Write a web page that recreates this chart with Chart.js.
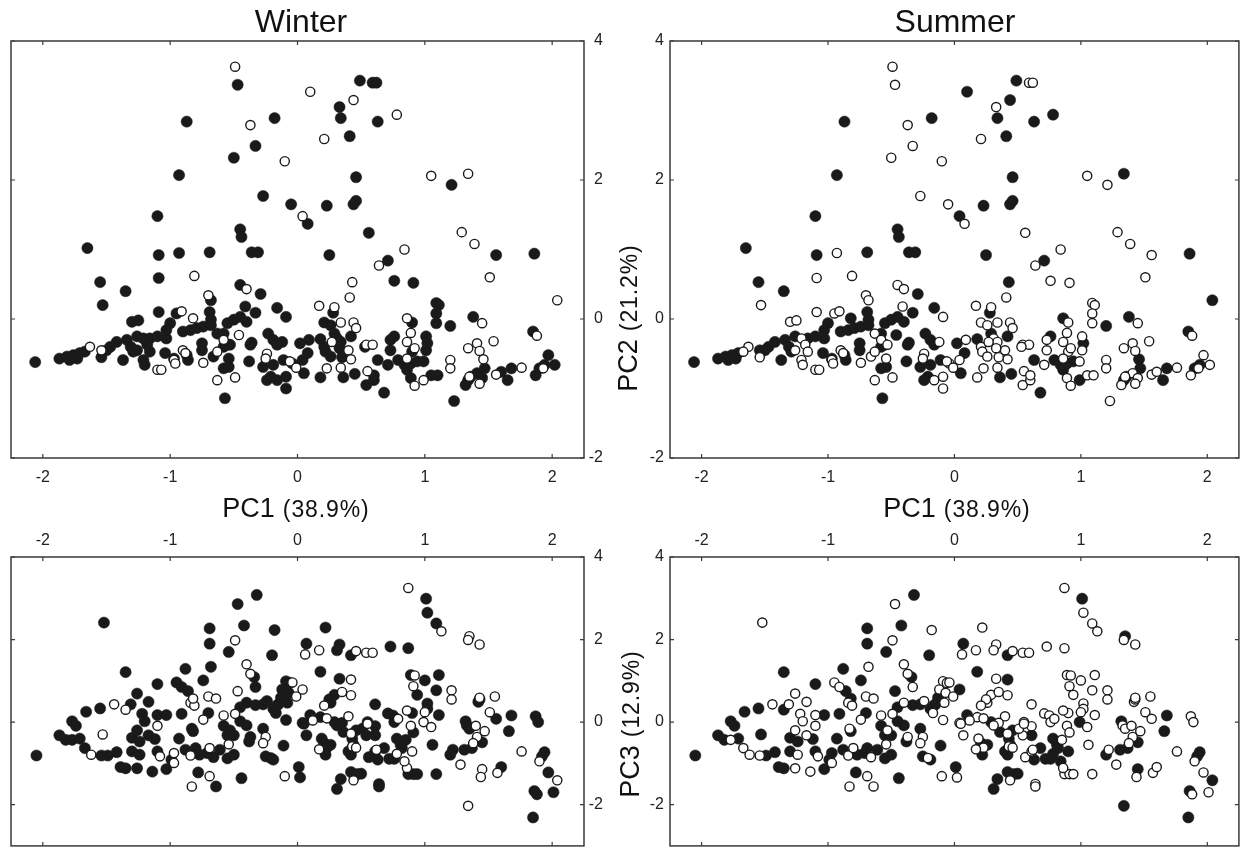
<!DOCTYPE html>
<html><head><meta charset="utf-8">
<script src="https://cdn.jsdelivr.net/npm/chart.js@4.4.1/dist/chart.umd.min.js"></script>
<style>
html,body{margin:0;padding:0;background:#fff;overflow:hidden;width:1245px;height:852px;}
body{position:relative;font-family:"Liberation Sans",Arial,Helvetica,sans-serif;color:#111;}
canvas{position:absolute;}
.t{position:absolute;white-space:nowrap;line-height:1;}
.ttl{font-size:32px;top:5px;transform:translateX(-50%);}
.ax{font-size:27px;}
.ax .s{font-size:23px;letter-spacing:0.9px;margin-left:8px;}
</style></head>
<body>
<canvas id="tl" width="628" height="500" style="left:0;top:0"></canvas>
<canvas id="tr" width="605" height="500" style="left:640px;top:0"></canvas>
<canvas id="bl" width="628" height="352" style="left:0;top:500px"></canvas>
<canvas id="br" width="605" height="352" style="left:640px;top:500px"></canvas>

<div class="t ttl" style="left:301px">Winter</div>
<div class="t ttl" style="left:955px">Summer</div>
<div class="t ax" style="left:296px;top:495px;transform:translateX(-50%)">PC1<span class="s">(38.9%)</span></div>
<div class="t ax" style="left:957px;top:495px;transform:translateX(-50%)">PC1<span class="s">(38.9%)</span></div>
<div class="t ax" style="left:628px;top:318px;transform:translate(-50%,-50%) rotate(-90deg)">PC2<span class="s">(21.2%)</span></div>
<div class="t ax" style="left:630px;top:724px;transform:translate(-50%,-50%) rotate(-90deg)">PC3<span class="s">(12.9%)</span></div>

<script>
// ---- tick values ----
const xTicks = [-2, -1, 0, 1, 2];
const yTicks = [-2, 0, 2, 4];

// ---- PC1 vs PC2 scores (top panels) ----
const topPC1 = [
-0.49,-0.47,0.49,0.59,0.62,0.10,0.44,0.33,0.34,0.63,
0.78,-0.87,-0.37,-0.18,0.21,0.41,-0.33,-0.50,-0.10,-0.93,
0.46,-0.27,-0.05,0.23,0.44,0.46,0.04,0.08,-1.10,0.56,
-0.45,-0.44,-1.65,-1.09,-0.93,-0.69,-0.36,-0.31,0.25,0.84,
0.71,0.64,-1.55,-1.35,-1.09,-0.81,-0.45,-0.40,-0.29,-0.70,
-0.68,0.43,0.41,0.76,0.91,1.05,1.21,1.34,1.29,1.39,
1.56,1.86,1.51,2.04,-1.53,-1.09,-0.69,-0.68,-0.41,-0.33,
-0.40,-0.16,-0.09,-1.30,-1.25,-0.95,-0.91,-1.00,-1.03,-0.82,
-0.90,-0.84,-0.79,-0.74,-0.68,-0.63,-0.58,-0.55,-0.50,-0.45,
-0.46,-0.58,-0.55,-0.58,-0.53,-0.75,-0.75,-1.03,-1.34,-1.26,
-1.21,-1.16,-1.10,-1.42,-1.47,-1.50,-1.31,-1.26,-1.18,-1.16,
-1.29,-1.21,-1.20,-1.37,-1.54,-1.63,-1.54,-1.87,-1.81,-1.76,
-1.71,-1.67,-1.79,-1.73,-2.06,-1.04,-0.97,-0.97,-0.96,-0.90,
-0.88,-0.87,-0.86,-1.10,-1.07,-0.74,-0.66,-0.63,-0.54,-0.58,
-0.54,-0.63,-0.49,-0.57,-0.38,-0.36,-0.37,-0.23,-0.19,-0.12,
-0.16,-0.24,-0.25,-0.27,-0.19,-0.21,-0.24,-0.16,-0.09,-0.09,
-0.11,-0.04,0.04,0.05,-0.06,-0.01,0.02,0.09,0.08,0.17,
0.29,0.28,0.34,0.44,0.46,0.21,0.26,0.29,0.31,0.34,
0.42,0.18,0.21,0.22,0.26,0.27,0.40,0.42,0.34,0.33,
0.35,0.23,0.18,0.36,0.45,0.55,0.54,0.60,0.60,0.68,
0.54,0.59,0.53,0.63,0.71,0.73,0.73,0.76,0.79,0.84,
0.86,0.89,0.94,0.99,1.01,1.02,1.01,0.90,0.89,0.86,
0.89,0.86,0.92,0.86,0.92,0.99,0.90,1.09,1.11,1.09,
1.09,1.20,1.05,1.10,1.20,1.20,1.23,1.38,1.45,1.34,
1.41,1.43,1.46,1.54,1.34,1.32,1.36,1.41,1.47,1.45,
1.35,1.43,1.56,1.60,1.68,1.65,1.76,1.85,1.88,1.87,
1.90,1.94,1.97,2.02,1.93
];
const topPC2 = [
3.63,3.37,3.43,3.40,3.40,3.27,3.15,3.05,2.89,2.84,
2.94,2.84,2.79,2.89,2.59,2.63,2.49,2.32,2.27,2.07,
2.04,1.77,1.65,1.63,1.65,1.70,1.48,1.37,1.48,1.24,
1.29,1.18,1.02,0.92,0.95,0.96,0.96,0.96,0.92,1.00,
0.84,0.77,0.53,0.40,0.59,0.62,0.49,0.43,0.36,0.34,
0.27,0.53,0.31,0.55,0.52,2.06,1.93,2.09,1.25,1.08,
0.92,0.94,0.60,0.27,0.20,0.10,0.10,-0.01,0.18,0.09,
-0.04,0.16,0.03,-0.04,-0.02,0.08,0.11,-0.06,-0.16,0.01,
-0.18,-0.16,-0.13,-0.11,-0.09,-0.21,-0.21,-0.06,-0.01,0.03,
-0.23,-0.30,-0.37,-0.40,-0.37,-0.35,-0.45,-0.28,-0.30,-0.25,
-0.28,-0.28,-0.25,-0.33,-0.40,-0.45,-0.40,-0.45,-0.37,-0.47,
-0.47,-0.59,-0.66,-0.59,-0.55,-0.40,-0.45,-0.57,-0.54,-0.52,
-0.49,-0.47,-0.59,-0.57,-0.62,-0.49,-0.57,-0.59,-0.64,-0.45,
-0.49,-0.52,-0.59,-0.73,-0.73,-0.63,-0.54,-0.47,-0.57,-0.71,
-0.69,-0.88,-0.84,-1.14,-0.61,-0.34,-0.37,-0.21,-0.30,-0.33,
-0.37,-0.50,-0.57,-0.69,-0.66,-0.83,-0.88,-0.88,-0.83,-1.00,
-0.59,-0.64,-0.59,-0.78,-0.61,-0.70,-0.35,-0.30,-0.49,0.19,
0.17,0.09,-0.05,-0.05,-0.13,-0.05,-0.09,-0.21,-0.28,-0.33,
-0.25,-0.29,-0.40,-0.47,-0.54,-0.33,-0.45,-0.58,-0.70,-0.42,
-0.55,-0.71,-0.84,-0.84,-0.79,-0.75,-0.95,-0.88,-0.81,-1.06,
-0.37,-0.37,-0.40,-0.59,-0.66,-0.45,-0.30,-0.25,-0.59,-0.66,
-0.73,-0.64,-0.61,-0.61,-0.45,-0.35,-0.25,-0.47,-0.85,0.01,
-0.20,-0.33,-0.42,-0.57,-0.96,-0.88,-0.05,0.23,0.20,0.08,
-0.06,-0.10,-0.81,-0.81,-0.59,-0.71,-1.18,0.03,-0.06,-0.42,
-0.35,-0.46,-0.58,-0.32,-0.88,-0.95,-0.83,-0.78,-0.71,-0.85,
-0.83,-0.93,-0.80,-0.76,-0.71,-0.88,-0.70,-0.18,-0.24,-0.81,
-0.71,-0.66,-0.52,-0.66,-0.71
];
// 1 = filled marker, 0 = open marker
const topWinter = [
0,1,1,1,1,0,0,1,1,1, 0,1,0,1,0,1,1,1,0,1, 1,1,1,1,1,1,0,1,1,1, 1,1,1,1,1,1,1,1,1,0,
1,0,1,1,1,0,1,0,1,0, 1,0,0,1,1,0,1,0,0,0, 1,1,0,0,1,1,1,1,1,1, 1,1,1,1,1,1,0,1,1,0,
1,1,1,1,1,1,1,1,1,1, 0,0,1,1,1,1,1,1,1,1, 1,1,1,1,1,1,1,1,1,1, 1,1,1,1,1,0,0,1,1,1,
1,1,1,1,1,1,1,0,0,0, 0,1,1,0,0,0,1,0,1,1, 1,0,0,1,1,1,1,1,1,1, 1,0,0,1,1,1,1,1,1,1,
1,1,1,1,0,0,1,1,1,0, 0,1,0,0,0,1,1,1,1,1, 1,1,1,1,1,0,0,0,0,1, 1,0,1,1,1,0,1,1,1,1,
0,0,1,1,1,1,1,1,1,1, 1,1,1,1,1,1,1,1,1,0, 0,0,0,0,0,0,1,1,1,1, 1,1,1,1,0,0,1,1,0,0,
0,0,0,0,1,1,1,1,1,1, 0,0,0,1,1,1,0,1,0,1, 1,1,1,1,0
];
const topSummer = [
0,0,1,0,0,1,1,0,1,1, 1,1,0,1,0,1,0,0,0,1, 1,0,0,1,1,1,1,0,1,0, 1,1,1,1,0,1,1,1,1,0,
1,0,1,1,0,0,0,0,1,0, 0,1,0,0,0,0,0,1,0,0, 0,1,0,1,0,0,1,1,0,1, 1,1,0,0,0,0,0,1,1,1,
1,1,1,1,1,0,1,1,1,1, 1,0,1,1,0,1,1,1,1,1, 0,1,1,1,1,1,1,0,0,0, 1,0,0,1,0,0,1,1,1,1,
1,0,1,1,1,1,1,0,0,0, 0,1,1,0,0,0,0,0,0,1, 1,0,0,1,1,1,1,1,1,0, 1,0,0,1,1,1,1,0,0,0,
1,0,0,1,0,0,1,0,1,0, 0,1,0,0,0,0,0,1,0,0, 1,1,0,0,0,0,0,0,0,0, 0,0,0,1,1,0,0,0,0,1,
0,0,0,1,0,0,0,1,1,1, 1,1,1,0,0,1,0,0,0,1, 0,0,0,0,0,1,0,0,0,0, 0,1,0,0,0,0,0,1,0,0,
0,0,1,0,1,0,1,0,1,0, 0,0,0,0,1,1,0,1,0,0, 1,1,0,0,0
];

// ---- PC1 vs PC3 scores (bottom panels) ----
const botPC1 = [
-0.32,-0.47,-0.42,-0.69,-0.18,-1.52,-0.49,-0.69,-0.54,-0.20,
0.07,0.06,-0.40,-0.68,-0.88,-1.35,-1.10,-0.37,-0.34,-0.33,
-0.74,-0.95,-0.91,-0.86,-0.47,-0.09,-0.06,-0.04,0.04,-0.12,
-0.07,-0.13,-0.08,-0.16,-0.01,-1.26,-1.31,-1.17,-1.44,-1.35,
-1.66,-1.55,-1.22,-1.20,-1.10,-1.03,-0.91,-0.84,-0.81,-0.82,
-0.70,-0.64,-0.70,-0.74,-0.58,-0.45,-0.40,-0.33,-0.27,-0.24,
-0.19,-0.17,-0.09,-0.15,-0.49,-0.45,0.10,0.04,0.07,-1.77,
-1.74,-1.87,-1.82,-1.77,-1.71,-1.67,-1.54,-1.49,-1.42,-1.53,
-1.62,-2.05,-1.30,-1.26,-1.24,-1.17,-1.12,-1.10,-1.30,-1.24,
-1.10,-1.08,-0.97,-0.97,-0.84,-0.69,-0.54,-0.25,-0.27,-1.39,
-1.35,-1.26,-1.14,-1.03,-0.99,-0.93,-0.88,-0.80,-0.77,-0.71,
-0.66,-0.61,-0.55,-0.50,-0.83,-0.82,-0.58,-0.53,-0.55,-0.50,
-0.40,-0.38,-0.37,-0.27,-0.25,-0.21,-0.19,-0.11,-0.78,-0.64,
-0.44,0.01,0.02,-0.83,-0.69,-0.10,0.87,1.01,1.02,1.09,
1.13,1.35,1.34,1.43,0.22,0.17,0.33,0.31,0.42,0.46,
0.54,0.59,0.73,0.87,0.18,0.33,0.42,0.89,0.92,0.91,
1.00,1.11,1.09,0.94,1.21,1.21,0.26,0.29,0.25,0.21,
0.35,0.42,0.61,1.02,1.02,1.11,1.00,0.99,1.05,0.90,
0.86,0.71,0.75,0.76,0.79,0.89,0.91,1.42,1.43,1.43,
1.55,1.51,1.56,1.68,1.66,1.32,1.33,1.35,1.45,1.37,
1.31,1.22,1.20,1.40,1.41,1.47,1.38,1.87,1.89,1.06,
1.28,1.45,1.44,1.57,1.60,1.76,1.94,1.92,1.90,1.97,
2.04,2.01,1.86,1.88,1.85,1.34,1.09,0.87,0.91,0.94,
0.86,0.84,0.90,0.81,0.82,0.78,0.85,0.78,0.76,0.72,
0.68,0.63,0.56,0.61,0.62,0.55,0.61,0.61,0.54,0.51,
0.46,0.43,0.44,0.40,0.42,0.55,0.40,0.42,0.43,0.46,
0.29,0.35,0.36,0.31,0.19,0.21,0.23,0.26,0.22,0.17,
0.42,0.50,0.47,0.34,0.31,0.64,0.64,0.44,0.05,0.18,
0.12,0.23
];
const botPC3 = [
3.08,2.86,2.34,2.27,2.23,2.41,1.98,1.90,1.70,1.62,
1.90,1.64,1.40,1.34,1.29,1.21,0.92,1.17,1.09,0.85,
1.01,0.96,0.85,0.75,0.75,0.99,0.95,0.96,0.79,0.79,
0.71,0.59,0.47,0.41,0.62,0.69,0.43,0.49,0.43,0.30,
0.25,0.33,0.20,0.02,0.17,0.17,0.20,0.47,0.40,0.57,
0.62,0.57,0.22,0.06,0.16,0.02,0.47,0.41,0.43,0.51,
0.32,0.22,0.05,0.43,0.20,0.36,0.17,-0.02,-0.32,0.02,
-0.09,-0.32,-0.43,-0.43,-0.40,-0.63,-0.81,-0.81,-0.73,-0.30,
-0.79,-0.81,-0.38,-0.20,-0.47,-0.32,-0.41,-0.71,-0.71,-0.79,
-0.09,-0.83,-0.75,-0.99,-0.81,-0.63,-0.54,-0.36,-0.51,-1.09,
-1.12,-1.12,-1.20,-1.14,-0.91,-0.40,-0.67,-0.63,-0.79,-0.75,
-0.85,-0.67,-0.88,-0.79,-0.16,-0.22,-0.09,-0.20,-0.32,-0.32,
-0.08,-0.47,-0.36,-0.16,-0.83,-0.87,-0.91,-0.57,-1.22,-1.56,
-1.36,-1.09,-1.34,-1.56,-1.31,-1.31,3.25,2.99,2.65,2.39,
2.20,2.08,1.99,1.88,2.29,1.74,1.88,1.74,1.62,1.72,
1.68,1.68,1.83,1.79,1.22,1.05,1.03,1.14,1.13,0.87,
1.01,1.14,0.77,0.66,0.77,0.55,0.47,0.66,0.55,0.40,
0.73,0.65,0.43,0.45,0.32,0.17,0.24,0.00,-0.12,0.22,
0.28,0.21,0.16,0.00,0.08,-0.09,-0.25,0.49,0.55,0.59,
0.62,0.24,0.08,0.16,-0.22,0.02,-0.08,-0.16,-0.49,-0.63,
-0.67,-0.67,-0.79,-0.09,-0.36,-0.22,-0.51,0.14,0.00,-0.55,
-1.03,-1.14,-1.33,-1.23,-1.09,-0.71,-0.73,-0.83,-0.95,-1.22,
-1.41,-1.70,-1.67,-1.75,-2.31,-2.03,-1.26,-1.26,-1.26,-1.26,
-1.11,-0.95,-0.71,-0.55,-0.63,-0.40,-0.43,-0.77,-0.89,-0.89,
-0.63,-0.91,-0.85,-0.71,-0.67,0.00,-0.10,-0.32,-0.32,-0.16,
-0.20,-0.40,-0.55,-0.71,-0.79,-0.04,0.14,-0.28,-0.59,-0.62,
0.00,-0.02,-0.24,-0.08,-0.40,-0.51,-0.62,-0.55,-0.79,-0.66,
-1.21,-1.25,-1.26,-1.38,-1.62,-1.50,-1.56,-1.41,-0.04,0.12,
0.04,0.09
];
const botWinter = [
1,1,1,1,1,1,0,1,1,1, 1,0,0,1,1,1,1,0,1,1, 1,1,1,1,0,1,1,0,0,1, 1,1,1,1,0,1,1,1,0,0,
1,1,1,1,1,1,1,0,0,0, 0,0,1,0,0,1,1,1,1,1, 1,1,1,1,0,1,1,1,1,1, 1,1,1,1,1,1,1,1,1,0,
0,1,1,1,1,1,1,1,1,1, 0,0,0,0,0,0,0,0,0,1, 1,1,1,1,1,1,1,1,1,1, 1,1,1,1,1,1,1,1,1,1,
1,1,1,1,1,1,1,1,1,1, 1,1,1,0,0,0,0,1,1,1, 0,0,0,0,1,0,1,1,1,0, 0,0,1,1,1,1,0,1,0,0,
1,1,1,1,0,0,1,1,1,0, 0,0,1,1,1,1,0,0,0,1, 0,1,1,1,0,0,1,1,1,0, 0,0,1,1,1,1,1,1,1,1,
1,1,1,0,0,0,0,1,1,1, 0,0,0,0,1,0,1,1,0,1, 0,1,1,1,1,0,1,1,1,1, 0,0,0,1,1,1,1,0,1,1,
1,1,1,1,0,1,1,1,1,1, 1,1,1,1,1,0,0,0,0,0, 1,1,1,1,1,1,1,1,1,0, 1,1,1,1,1,1,1,0,1,1,
0,0
];
const botSummer = [
1,0,1,1,0,0,0,1,1,1, 1,0,0,0,1,1,1,0,1,0, 1,0,0,1,1,0,0,0,1,0, 0,1,0,1,0,0,0,0,0,1,
1,1,0,0,0,1,1,0,0,1, 0,0,1,0,0,1,0,1,1,0, 1,0,0,1,0,1,1,0,0,1, 1,1,1,0,1,0,0,1,1,1,
0,1,1,0,1,0,1,1,1,0, 0,0,1,0,0,1,0,0,0,1, 1,0,0,1,1,1,1,0,1,1, 0,1,1,1,0,1,1,0,1,1,
1,1,0,1,1,0,1,1,1,0, 1,1,0,0,0,0,0,1,0,0, 0,1,0,0,0,0,0,0,1,0, 0,0,0,0,1,0,1,0,0,0,
0,0,0,0,0,0,0,0,0,0, 0,0,0,0,0,0,0,1,0,0, 0,0,0,0,0,0,0,0,0,0, 0,0,0,1,1,1,0,0,1,1,
1,0,1,0,0,0,0,0,0,0, 0,1,0,0,0,0,1,1,0,0, 1,0,1,0,1,1,0,0,0,0, 0,1,1,1,1,1,0,1,1,1,
1,1,0,0,0,0,0,1,0,0, 1,1,1,1,1,0,0,0,0,0, 1,0,1,0,0,1,0,1,1,0, 1,1,1,1,1,0,0,0,0,0,
0,0
];

// ---- drawing ----
const FONT = '"Liberation Sans", Arial, Helvetica, sans-serif';
Chart.defaults.font.family = FONT;

const framePlugin = {
  id: 'frame',
  afterDraw(chart) {
    const {ctx, chartArea: a, scales} = chart;
    const x = scales.x, y = scales.y;
    ctx.save();
    ctx.strokeStyle = '#3a3a3a';
    ctx.lineWidth = 1.5;
    ctx.strokeRect(a.left, a.top, a.right - a.left, a.bottom - a.top);
    ctx.lineWidth = 1.2;
    ctx.beginPath();
    const L = 4;
    xTicks.forEach(v => {
      const p = x.getPixelForValue(v);
      ctx.moveTo(p, a.top); ctx.lineTo(p, a.top + L);
      ctx.moveTo(p, a.bottom); ctx.lineTo(p, a.bottom - L);
    });
    yTicks.forEach(v => {
      const p = y.getPixelForValue(v);
      ctx.moveTo(a.left, p); ctx.lineTo(a.left + L, p);
      ctx.moveTo(a.right, p); ctx.lineTo(a.right - L, p);
    });
    ctx.stroke();
    ctx.restore();
  }
};

function makePanel(id, xs, ys, flags, o) {
  const filled = [], open = [];
  const n = Math.min(xs.length, ys.length, flags.length);
  for (let i = 0; i < n; i++) {
    const p = {x: xs[i], y: ys[i]};
    (flags[i] ? filled : open).push(p);
  }
  const tickFont = {size: 16, family: FONT};
  return new Chart(document.getElementById(id), {
    type: 'scatter',
    data: {datasets: [
      {data: open, pointRadius: 4.6, pointBackgroundColor: '#ffffff', pointBorderColor: '#1a1a1a', pointBorderWidth: 1.4},
      {data: filled, pointRadius: 5.6, pointBackgroundColor: '#1a1a1a', pointBorderColor: '#1a1a1a', pointBorderWidth: 0.5}
    ]},
    options: {
      responsive: false, animation: false, events: [],
      layout: {padding: o.padding},
      plugins: {legend: {display: false}, tooltip: {enabled: false}},
      scales: {
        x: {
          type: 'linear', position: o.xPos, min: -2.25, max: 2.25,
          afterBuildTicks: s => { s.ticks = xTicks.map(v => ({value: v})); },
          afterFit: s => { s.height = o.xH; s.paddingLeft = 0; s.paddingRight = 0; s.paddingTop = 0; s.paddingBottom = 0; },
          grid: {display: false, drawTicks: false},
          border: {display: false},
          ticks: {padding: o.xPad, font: tickFont, color: '#222', maxRotation: 0, autoSkip: false, callback: v => String(v)}
        },
        y: {
          type: 'linear', position: o.yPos, min: o.yMin, max: 4,
          afterBuildTicks: s => { s.ticks = yTicks.map(v => ({value: v})); },
          afterFit: s => { s.width = o.yW; s.paddingLeft = 0; s.paddingRight = 0; s.paddingTop = 0; s.paddingBottom = 0; },
          grid: {display: false, drawTicks: false},
          border: {display: false},
          ticks: {padding: o.yPad, crossAlign: o.yPos === 'right' ? 'far' : 'near', font: tickFont, color: '#222', autoSkip: false, callback: v => String(v)}
        }
      }
    },
    plugins: [framePlugin]
  });
}

makePanel('tl', topPC1, topPC2, topWinter, {padding: {left: 11, top: 41, right: 25, bottom: 0}, xPos: 'bottom', xH: 42, xPad: 10, yPos: 'right', yW: 19, yPad: 6, yMin: -2});
makePanel('tr', topPC1, topPC2, topSummer, {padding: {left: 0, top: 41, right: 3, bottom: 0}, xPos: 'bottom', xH: 42, xPad: 10, yPos: 'left', yW: 30, yPad: 6, yMin: -2});
makePanel('bl', botPC1, botPC3, botWinter, {padding: {left: 11, top: 0, right: 25, bottom: 1}, xPos: 'top', xH: 57, xPad: 7, yPos: 'right', yW: 19, yPad: 6, yMin: -3});
makePanel('br', botPC1, botPC3, botSummer, {padding: {left: 0, top: 0, right: 3, bottom: 1}, xPos: 'top', xH: 57, xPad: 7, yPos: 'left', yW: 30, yPad: 6, yMin: -3});
</script>
</body></html>
